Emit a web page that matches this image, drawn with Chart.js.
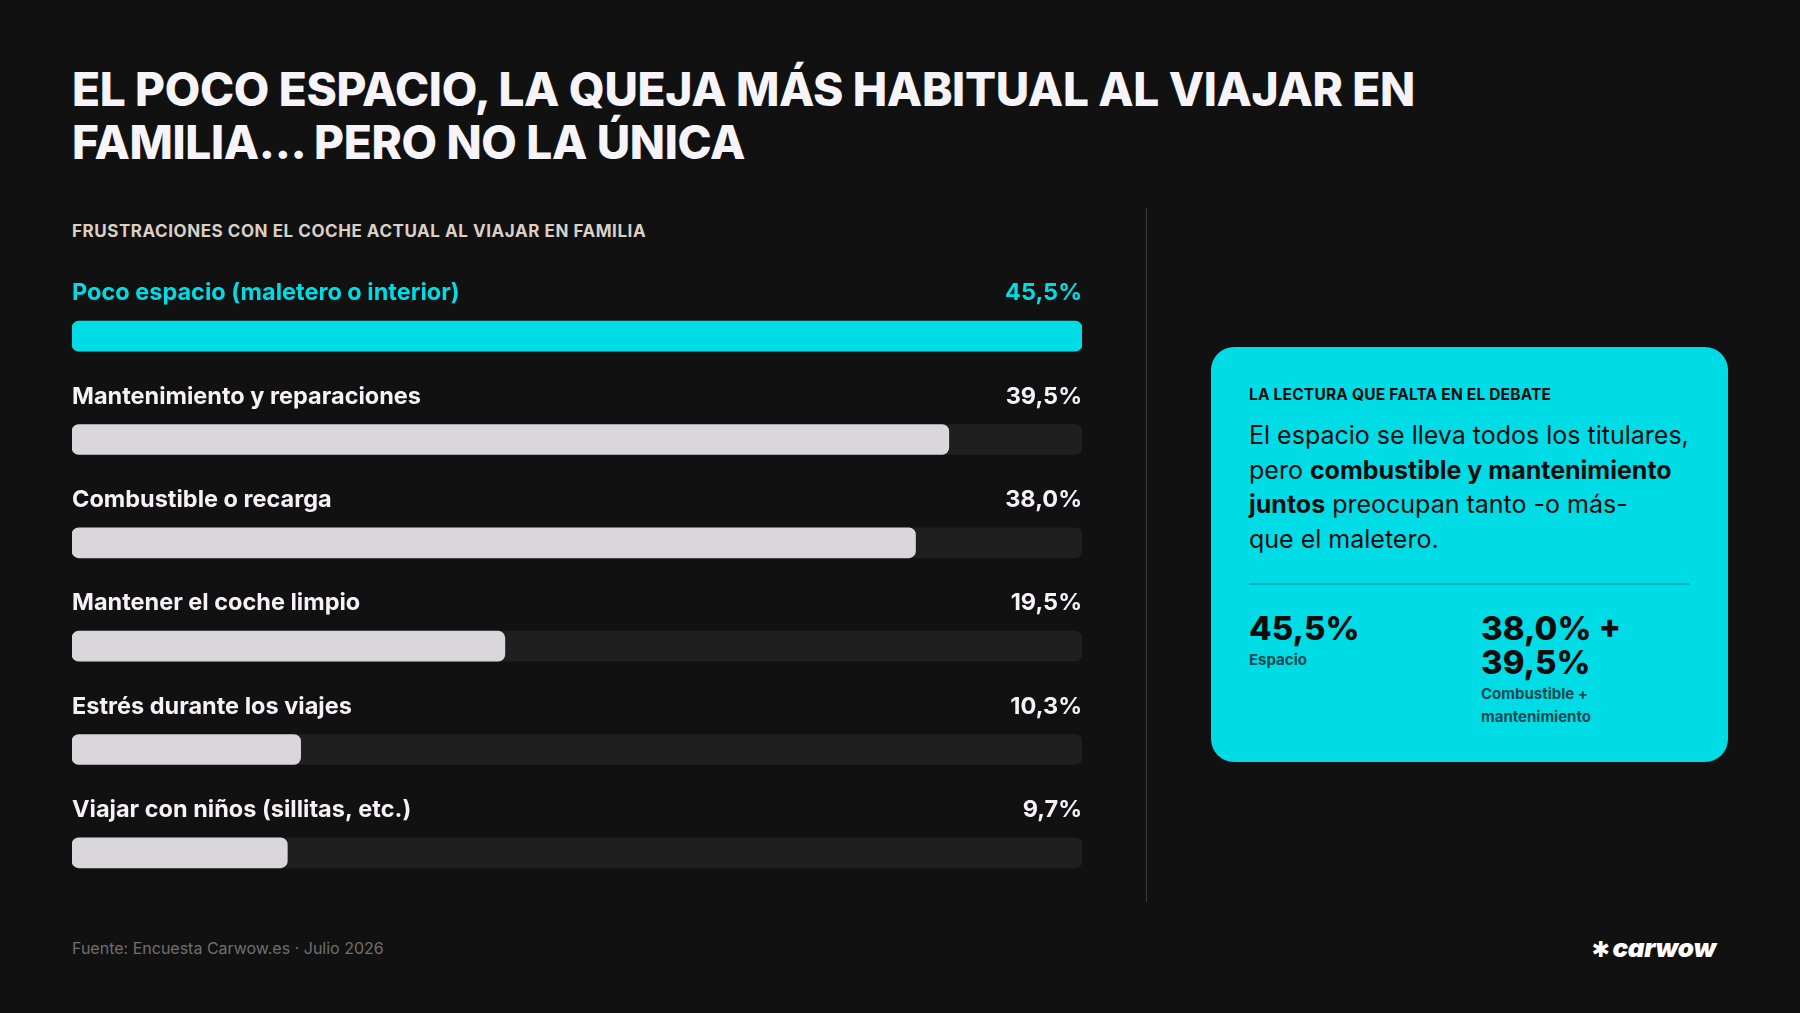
<!DOCTYPE html>
<html lang="es">
<head>
<meta charset="utf-8">
<title>Frustraciones al viajar en familia</title>
<script src="https://cdn.jsdelivr.net/npm/chart.js@4.4.1/dist/chart.umd.min.js"></script>
<style>
  html, body { margin: 0; padding: 0; background: #111111; }
  body { width: 1800px; height: 1013px; position: relative; overflow: hidden; font-family: Inter, "Noto Sans", sans-serif; color: #f4f2f6; }
  .title { position: absolute; left: 72px; top: 63px; margin: 0; font-size: 46px; line-height: 53px; font-weight: 800; letter-spacing: -0.35px; color: #f6f4f8; }
  .subtitle { position: absolute; left: 72px; top: 221px; font-size: 17px; font-weight: 700; color: #d9d0c6; letter-spacing: 0.55px; }
  .chart-wrap { position: absolute; left: 72px; top: 241px; width: 1010px; height: 670px; }
  .divider { position: absolute; left: 1146px; top: 208px; width: 1px; height: 694px; background: #3a3a3a; }
  .card { position: absolute; left: 1211px; top: 347px; width: 517px; height: 415px; background: #00dce6; border-radius: 23px; color: #0d0d0d; }
  .card .kicker { position: absolute; left: 38px; top: 38px; font-size: 15.5px; font-weight: 700; letter-spacing: 0.2px; }
  .card .text { position: absolute; left: 38px; top: 71px; font-size: 25px; line-height: 34.5px; font-weight: 400; }
  .card .text b { font-weight: 700; }
  .card .rule { position: absolute; left: 38px; top: 236px; width: 441px; height: 2px; background: #05b3bd; }
  .card .stat { position: absolute; top: 264px; }
  .card .stat .num { font-size: 33px; line-height: 34px; font-weight: 800; }
  .card .stat .lbl { font-size: 15px; line-height: 23px; font-weight: 700; color: #0b4a50; margin-top: 3px; }
  .footer { position: absolute; left: 72px; top: 938px; font-size: 16px; color: #6f6f6f; }
  .logo { position: absolute; right: 84px; top: 932px; font-size: 26px; font-weight: 900; font-style: italic; color: #ffffff; letter-spacing: -0.3px; }
  .logo .mark { font-style: normal; font-family: 'DejaVu Sans'; font-size: 22px; margin-right: 3px; }
</style>
</head>
<body>
  <h1 class="title">EL POCO ESPACIO, LA QUEJA MÁS HABITUAL AL VIAJAR EN<br>FAMILIA... PERO NO LA ÚNICA</h1>
  <div class="subtitle">FRUSTRACIONES CON EL COCHE ACTUAL AL VIAJAR EN FAMILIA</div>
  <div class="chart-wrap"><canvas id="frustracionesChart"></canvas></div>
  <div class="divider"></div>

  <div class="card">
    <div class="kicker">LA LECTURA QUE FALTA EN EL DEBATE</div>
    <div class="text">El espacio se lleva todos los titulares,<br>pero <b>combustible y mantenimiento</b><br><b>juntos</b> preocupan tanto -o más-<br>que el maletero.</div>
    <div class="rule"></div>
    <div class="stat" style="left:38px;">
      <div class="num">45,5%</div>
      <div class="lbl">Espacio</div>
    </div>
    <div class="stat" style="left:270px;">
      <div class="num">38,0% +<br>39,5%</div>
      <div class="lbl">Combustible +<br>mantenimiento</div>
    </div>
  </div>

  <div class="footer">Fuente: Encuesta Carwow.es · Julio 2026</div>
  <div class="logo"><span class="mark">✱</span>carwow</div>

<script>
// Data
const categories = [
  'Poco espacio (maletero o interior)',
  'Mantenimiento y reparaciones',
  'Combustible o recarga',
  'Mantener el coche limpio',
  'Estrés durante los viajes',
  'Viajar con niños (sillitas, etc.)'
];
const values = [45.5, 39.5, 38.0, 19.5, 10.3, 9.7];
const valueLabels = ['45,5%', '39,5%', '38,0%', '19,5%', '10,3%', '9,7%'];
const maxValue = 45.5;

const CYAN = '#00dce6';
const BAR_GREY = '#d9d6dc';
const TRACK = '#1f1f1f';

// Draws the row label and value above every bar
const rowLabels = {
  id: 'rowLabels',
  afterDatasetsDraw(chart) {
    const ctx = chart.ctx;
    const meta = chart.getDatasetMeta(1);
    const left = chart.chartArea.left;
    const right = chart.chartArea.right;
    ctx.save();
    ctx.font = '700 23.5px Inter, "Noto Sans", sans-serif';
    ctx.textBaseline = 'middle';
    meta.data.forEach((bar, i) => {
      const y = bar.y - 43;
      ctx.fillStyle = i === 0 ? CYAN : '#f4f2f6';
      ctx.textAlign = 'left';
      ctx.fillText(categories[i], left, y);
      ctx.textAlign = 'right';
      ctx.fillText(valueLabels[i], right, y);
    });
    ctx.restore();
  }
};

const ctx = document.getElementById('frustracionesChart');

new Chart(ctx, {
  type: 'bar',
  data: {
    labels: categories,
    datasets: [
      {
        // background track
        data: categories.map(() => maxValue),
        backgroundColor: TRACK,
        borderRadius: 7,
        borderSkipped: false,
        barThickness: 30,
        grouped: false,
        order: 2
      },
      {
        data: values,
        backgroundColor: values.map((_, i) => (i === 0 ? CYAN : BAR_GREY)),
        borderRadius: 7,
        borderSkipped: false,
        barThickness: 30,
        grouped: false,
        order: 1
      }
    ]
  },
  options: {
    indexAxis: 'y',
    responsive: true,
    maintainAspectRatio: false,
    animation: false,
    layout: { padding: { top: 43.5, bottom: 6.5, left: 0, right: 0 } },
    scales: {
      x: { min: 0, max: maxValue, display: false },
      y: { display: false }
    },
    plugins: {
      legend: { display: false },
      tooltip: { enabled: false }
    }
  },
  plugins: [rowLabels]
});
</script>
</body>
</html>
